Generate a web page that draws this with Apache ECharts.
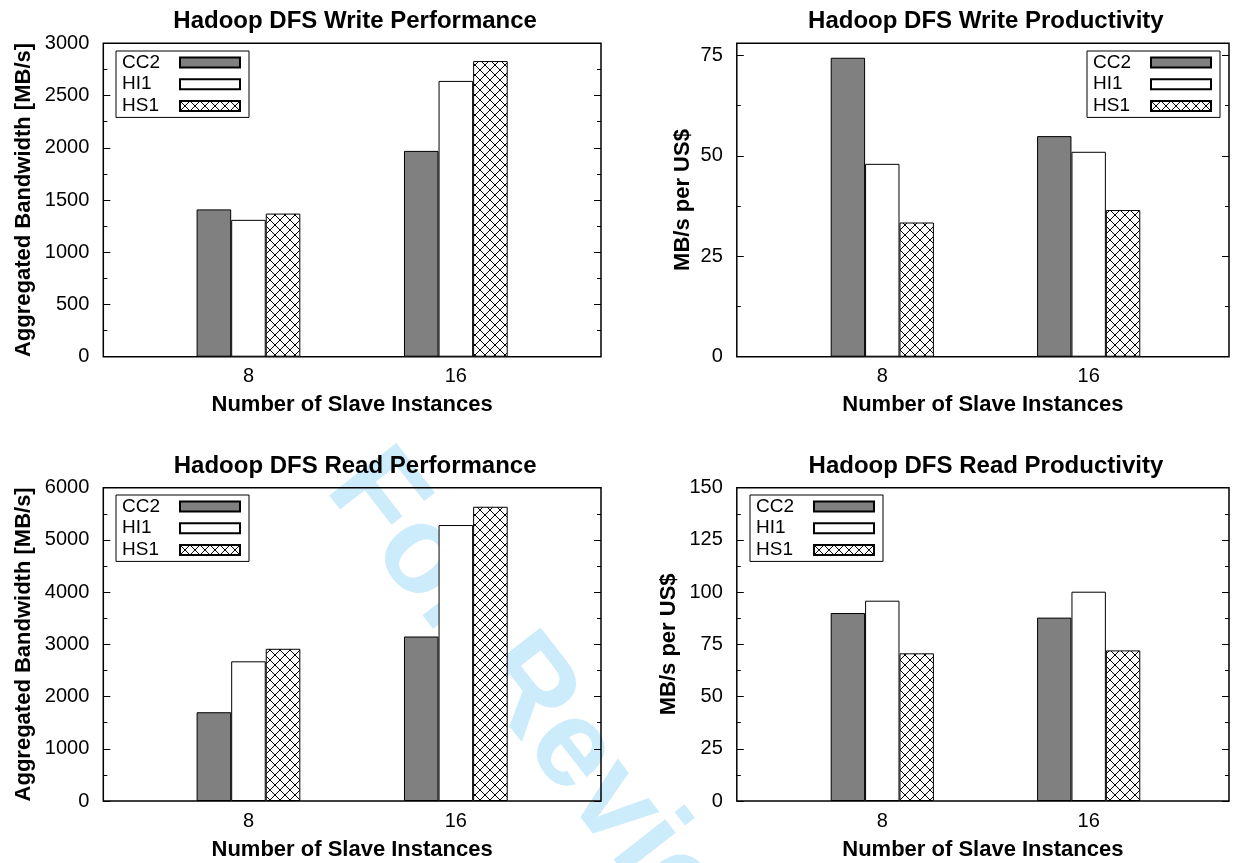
<!DOCTYPE html>
<html><head><meta charset="utf-8">
<script src="https://cdn.jsdelivr.net/npm/echarts@6/dist/echarts.min.js"></script>
<style>html,body{margin:0;padding:0;background:#fff}#c{width:1236px;height:863px}</style>
</head><body><div id="c"></div>
<script>
// ---- data ----
const categories = ['8', '16'];
const seriesNames = ['CC2', 'HI1', 'HS1'];
const writePerfCC2 = [1410, 1970];
const writePerfHI1 = [1310, 2640];
const writePerfHS1 = [1370, 2830];
const writeProdCC2 = [74.4, 54.9];
const writeProdHI1 = [48.0, 51.0];
const writeProdHS1 = [33.4, 36.5];
const readPerfCC2 = [1700, 3150];
const readPerfHI1 = [2675, 5285];
const readPerfHS1 = [2915, 5635];
const readProdCC2 = [90.0, 87.8];
const readProdHI1 = [95.9, 100.2];
const readProdHS1 = [70.7, 72.1];
const panelTitles = ['Hadoop DFS Write Performance', 'Hadoop DFS Write Productivity',
                     'Hadoop DFS Read Performance', 'Hadoop DFS Read Productivity'];
const yNames = ['Aggregated Bandwidth [MB/s]', 'MB/s per US$', 'Aggregated Bandwidth [MB/s]', 'MB/s per US$'];
const xName = 'Number of Slave Instances';
const watermarkText = 'For Review Only';

const panelValues = [
  [writePerfCC2, writePerfHI1, writePerfHS1],
  [writeProdCC2, writeProdHI1, writeProdHS1],
  [readPerfCC2, readPerfHI1, readPerfHS1],
  [readProdCC2, readProdHI1, readProdHS1]
];

// ---- layout / style ----
const FONT = '"Liberation Sans", Arial, Helvetica, sans-serif';
const grids = [
  {left: 103.3, top: 43.3, width: 497.7, height: 313.4},
  {left: 736.8, top: 43.3, width: 492.2, height: 313.4},
  {left: 103.3, top: 487.7, width: 497.7, height: 313.3},
  {left: 736.8, top: 487.7, width: 492.2, height: 313.3}
];
const yCfg = [
  {max: 3000, interval: 500, gap: 68},
  {max: 78, interval: 25, gap: 43},
  {max: 6000, interval: 1000, gap: 68},
  {max: 150, interval: 25, gap: 57}
];
const xRange = [[-0.7, 1.7], [-0.705, 1.68], [-0.7, 1.7], [-0.705, 1.68]];
const legendPos = [
  {left: 116, top: 51}, {right: 16, top: 51}, {left: 116, top: 495}, {left: 750, top: 495}
];
const titleY = [9, 454];

function hatch() {
  const s = 10, c = document.createElement('canvas');
  c.width = s; c.height = s;
  const g = c.getContext('2d');
  g.fillStyle = '#fff'; g.fillRect(0, 0, s, s);
  g.strokeStyle = '#000'; g.lineWidth = 1;
  g.beginPath();
  g.moveTo(0, 0); g.lineTo(s, s);
  g.moveTo(s, 0); g.lineTo(0, s);
  g.stroke();
  return c;
}
const fills = ['#808080', '#ffffff', {image: hatch(), repeat: 'repeat'}];

const option = {
  animation: false,
  backgroundColor: '#fff',
  textStyle: {fontFamily: FONT},
  graphic: [{
    type: 'text', x: 351, y: 468, rotation: -52 * Math.PI / 180, z: -10, silent: true,
    style: {text: watermarkText, font: 'bold 124px ' + FONT, fill: '#cdecfb',
            align: 'left', verticalAlign: 'middle', textAlign: 'left', textVerticalAlign: 'middle'}
  }],
  title: panelTitles.map((t, i) => ({
    text: t, left: grids[i].left + grids[i].width / 2 + 3, top: titleY[i < 2 ? 0 : 1],
    textAlign: 'center', padding: 0, z: 5,
    textStyle: {fontSize: 24, fontWeight: 'bold', color: '#000', fontFamily: FONT}
  })),
  grid: grids.map(g => Object.assign({show: true, borderColor: '#000', borderWidth: 1.5,
    backgroundColor: 'transparent', containLabel: false}, g)),
  legend: legendPos.map(p => Object.assign({
    orient: 'vertical', align: 'right', icon: 'rect', itemWidth: 60, itemHeight: 10, itemGap: 2.7,
    padding: [2, 8, 2, 6], borderColor: '#000', borderWidth: 1, selectedMode: false,
    data: seriesNames,
    formatter: n => '{a|' + n + '}',
    textStyle: {fontSize: 19, color: '#000', fontFamily: FONT,
      rich: {a: {width: 53, align: 'left', fontSize: 19, lineHeight: 18, fontFamily: FONT, color: '#000'}}}
  }, p)),
  xAxis: grids.map((g, i) => ({
    type: 'value', gridIndex: i, min: xRange[i][0], max: xRange[i][1],
    axisLine: {show: false, onZero: false}, axisTick: {show: false}, splitLine: {show: false},
    axisLabel: {customValues: categories.map((c, k) => k), formatter: v => categories[Math.round(v)],
      fontSize: 20, color: '#000', margin: 10, fontFamily: FONT},
    name: xName, nameLocation: 'middle', nameGap: 37.5,
    nameTextStyle: {fontSize: 22, fontWeight: 'bold', color: '#000', fontFamily: FONT}
  })),
  yAxis: [],
  series: []
};

grids.forEach((g, i) => {
  const c = yCfg[i];
  option.yAxis.push({
    type: 'value', gridIndex: i, position: 'left', min: 0, max: c.max, interval: c.interval,
    axisLine: {show: false, onZero: false}, splitLine: {show: false},
    axisTick: {show: true, inside: true, length: 7, lineStyle: {color: '#000', width: 1}},
    minorTick: {show: true, splitNumber: 2, length: 4, lineStyle: {color: '#000', width: 1}},
    axisLabel: {fontSize: 20, color: '#000', margin: 14, fontFamily: FONT,
      formatter: v => String(v), showMaxLabel: c.max % c.interval === 0},
    name: yNames[i], nameLocation: 'middle', nameGap: c.gap, nameRotate: 90,
    nameTextStyle: {fontSize: 22, fontWeight: 'bold', color: '#000', fontFamily: FONT}
  });
  option.yAxis.push({
    type: 'value', gridIndex: i, position: 'right', min: 0, max: c.max, interval: c.interval,
    axisLine: {show: false, onZero: false}, splitLine: {show: false}, axisLabel: {show: false},
    axisTick: {show: true, inside: true, length: 7, lineStyle: {color: '#000', width: 1}},
    minorTick: {show: true, splitNumber: 2, length: 4, lineStyle: {color: '#000', width: 1}}
  });
  seriesNames.forEach((n, s) => {
    option.series.push({
      type: 'bar', name: n, xAxisIndex: i, yAxisIndex: 2 * i,
      barWidth: '16.67%', barGap: '0%', silent: true,
      itemStyle: {color: fills[s], borderColor: '#000', borderWidth: 1},
      data: panelValues[i][s].map((v, k) => [k, v])
    });
  });
});

const chart = echarts.init(document.getElementById('c'), null, {renderer: 'canvas'});
chart.setOption(option);
</script></body></html>
